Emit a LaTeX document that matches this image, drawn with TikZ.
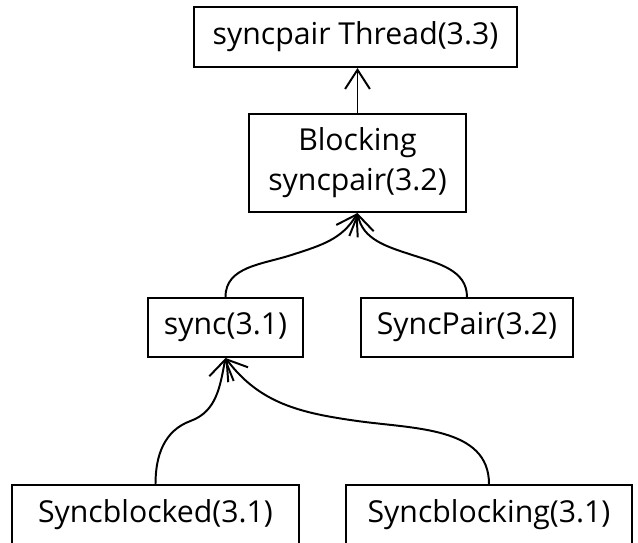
\documentclass[tikz,border=0pt]{standalone}
\usepackage{fontspec}
\setmainfont{Open Sans}
\usetikzlibrary{arrows.meta}
\usetikzlibrary{calc}

\begin{document}
\begin{tikzpicture}[
    box/.style={draw, line width=1.4pt, inner sep=0pt, align=center,
        minimum height=1.5cm, font=\fontsize{21.5}{28.5}\selectfont},
    dep/.style={line width=1.4pt, -{Straight Barb[length=4.8mm,width=6.2mm]}}
]
    \useasboundingbox (0,0) rectangle (15.95,13.575);

    % Modules
    \node[box, minimum width=8.075cm] (thread) at (8.8875,12.65) {syncpair Thread(3.3)};
    \node[box, minimum width=5.425cm, minimum height=2.45cm] (blocking) at (8.9375,9.5) {Blocking\\syncpair(3.2)};
    \node[box, minimum width=3.875cm, minimum height=1.475cm] (sync) at (5.6375,5.3875) {sync(3.1)};
    \node[box, minimum width=5.3cm, minimum height=1.475cm] (syncpair) at (11.675,5.3875) {SyncPair(3.2)};
    \node[box, minimum width=7.175cm] (syncblocked) at (3.8875,0.7) {Syncblocked(3.1)};
    \node[box, minimum width=7.15cm] (syncblocking) at (12.225,0.7) {Syncblocking(3.1)};

    % Dependencies
    \draw[dep] (blocking.north) -- (blocking.north |- thread.south);

    \draw[dep] (sync.north) to[out=90,in=198] ($(sync.north)!.5!(blocking.south)$)
        to[out=18,in=-120] (blocking.south);
    \draw[dep] (syncpair.north) to[out=90,in=-18] ($(syncpair.north)!.5!(blocking.south)$)
        to[out=162,in=-79] (blocking.south);

    \draw[dep] (syncblocked.north) to[out=90,in=200] ($(syncblocked.north)!.5!(sync.south)$)
        to[out=20,in=-101] (sync.south);
    \draw[dep] (syncblocking.north) to[out=90,in=-8] ($(syncblocking.north)!.5!(sync.south)$)
        to[out=172,in=-53] (sync.south);
\end{tikzpicture}
\end{document}
